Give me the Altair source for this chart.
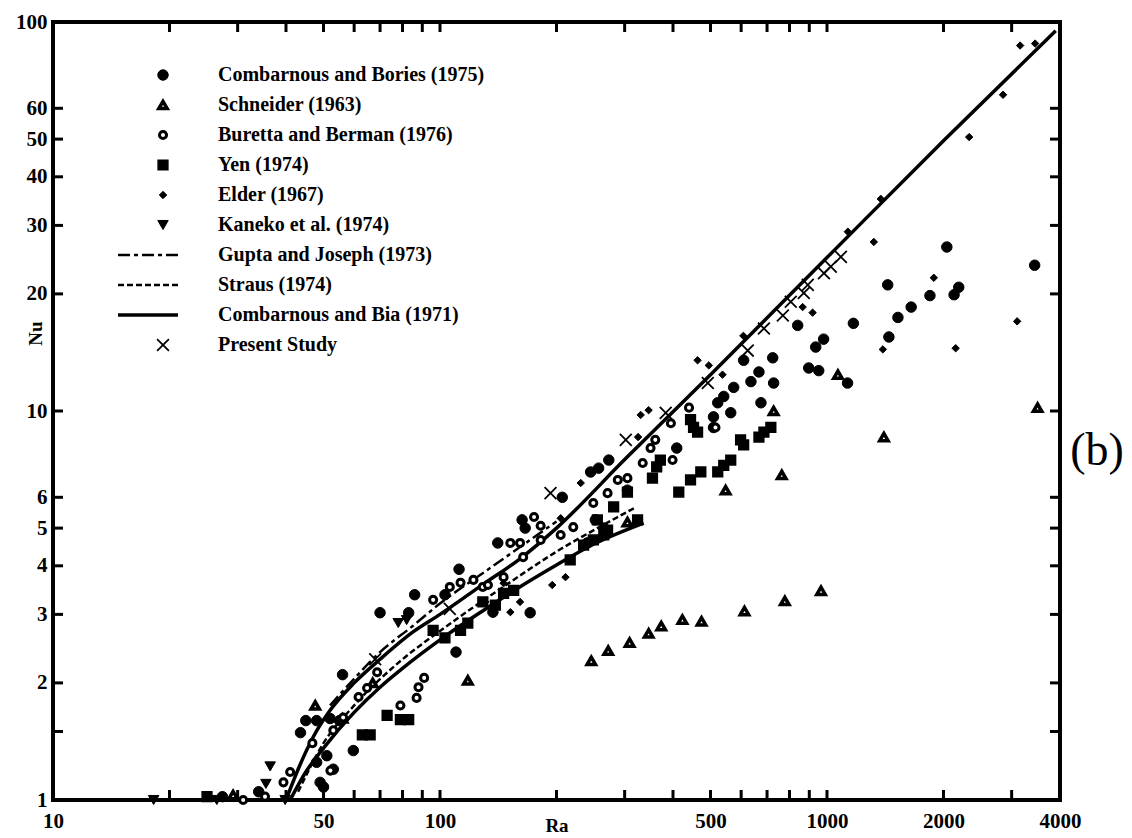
import altair as alt
import pandas as pd

# ---------------- data (Ra, Nu) ----------------
# Combarnous and Bories (1975)
cb_ra = [2040, 3440, 1435, 1845, 2130, 2190, 1650, 1525, 1445, 1170, 980, 935, 897, 952, 1130,
         840, 724, 609, 667, 636, 728, 574, 522, 541, 675, 564, 509, 509, 409, 305, 252, 265,
         240, 245, 257, 273, 163, 166, 141, 112, 103, 83, 171, 137, 70, 86, 110, 56, 43.6, 49,
         59.7, 45, 48, 52, 55, 48, 51, 53, 50, 34, 27.4, 207]
cb_nu = [26.4, 23.7, 21.1, 19.8, 19.9, 20.8, 18.5, 17.4, 15.5, 16.8, 15.3, 14.6, 12.9, 12.7, 11.8,
         16.6, 13.7, 13.5, 12.6, 11.9, 11.8, 11.5, 10.5, 10.9, 10.5, 9.9, 9.66, 9.07, 8.03, 6.26, 5.25, 5.0,
         4.58, 6.97, 7.13, 7.48, 5.25, 5.0, 4.58, 3.92, 3.37, 3.03, 3.03, 3.04, 3.03, 3.37, 2.40, 2.1, 1.49, 1.11,
         1.34, 1.6, 1.6, 1.62, 1.6, 1.25, 1.3, 1.2, 1.08, 1.05, 1.02, 6.0]

# Schneider (1963)
sch_ra = [246, 272, 309, 346, 373, 423, 474, 612, 778, 965,
          728, 764, 547, 1403, 1067, 3500, 118, 47.6, 29.2, 305, 56, 67]
sch_nu = [2.28, 2.42, 2.54, 2.68, 2.80, 2.91, 2.88, 3.06, 3.25, 3.45,
          10.0, 6.85, 6.26, 8.57, 12.4, 10.2, 2.03, 1.75, 1.03, 5.18, 1.62, 2.0]

# Buretta and Berman (1976)
bb_ra = [129, 146, 164, 182, 205, 221, 249, 271, 288, 305, 334, 175, 182, 152, 161, 399,
         96, 106, 113, 122, 133, 61.6, 64.8, 68.8, 53, 56.2, 46.8, 52.1, 79, 88, 91, 87,
         31, 35.3, 39.4, 41, 440, 395, 515, 350, 360]
bb_nu = [3.53, 3.74, 4.21, 4.66, 4.80, 5.03, 5.80, 6.15, 6.65, 6.72, 7.35, 5.34, 5.07, 4.58, 4.58, 7.48,
         3.27, 3.53, 3.62, 3.68, 3.57, 1.84, 1.94, 2.13, 1.51, 1.63, 1.40, 1.19, 1.75, 1.95, 2.06, 1.83,
         1.0, 1.02, 1.11, 1.18, 10.2, 9.3, 9.07, 8.03, 8.43]

# Yen (1974)
yen_ra = [414, 444, 472, 522, 541, 564, 598, 609, 667, 687, 716, 452, 444, 463, 255, 271, 324, 305,
          281, 235, 249, 265, 217, 146, 155, 129, 139, 113, 118, 103, 96, 73, 79, 83, 63, 66, 25,
          371, 363, 354]
yen_nu = [6.19, 6.65, 6.97, 6.97, 7.25, 7.48, 8.43, 8.18, 8.57, 8.83, 9.07, 9.07, 9.5, 8.83, 5.25, 4.94, 5.25, 6.19,
          5.67, 4.52, 4.66, 4.80, 4.14, 3.40, 3.46, 3.23, 3.17, 2.73, 2.85, 2.61, 2.73, 1.65, 1.61, 1.61, 1.47, 1.47, 1.02,
          7.48, 7.18, 6.72]

# Elder (1967)
eld_ra = [3155, 3450, 2850, 2330, 1377, 1132, 1321, 1888, 918, 865, 1394, 537, 463, 346, 330, 325,
          231, 205, 211, 195, 161, 152, 131, 146, 3100, 2150, 495, 608]
eld_nu = [87, 88, 65, 50.6, 35.1, 28.9, 27.2, 22.0, 17.9, 18.5, 14.4, 12.4, 13.5, 10.05, 9.77, 8.57,
          6.53, 5.3, 3.74, 3.57, 3.23, 3.04, 3.23, 3.61, 17.0, 14.5, 13.1, 15.6]

# Kaneko et al. (1974)
kan_ra = [18.2, 26.5, 39.8, 36.4, 35.5, 78, 82]
kan_nu = [1.0, 1.0, 1.0, 1.22, 1.1, 2.85, 2.9]

# Present Study
ps_ra = [68, 106, 193, 302, 383, 492, 624, 687, 769, 806, 871, 892, 982, 1023, 1086]
ps_nu = [2.3, 3.1, 6.15, 8.43, 9.89, 11.8, 14.3, 16.3, 17.6, 19.1, 20.1, 21.1, 22.6, 23.5, 24.9]

# Gupta and Joseph (1973)
gj_ra = [52, 60, 70, 85, 100, 130, 160, 200]
gj_nu = [1.75, 2.05, 2.4, 2.8, 3.2, 3.85, 4.45, 5.2]

# Straus (1974)
st_ra = [43, 50, 60, 80, 100, 150, 200, 260, 320]
st_nu = [1.05, 1.4, 1.75, 2.3, 2.72, 3.6, 4.35, 5.05, 5.65]

# Combarnous and Bia (1971), upper and lower branches
cbia_ra = [40, 43, 47, 52, 60, 70, 85, 100, 130, 160, 200, 300, 500, 1000, 2000, 3900]
cbia_nu = [1.0, 1.2, 1.45, 1.7, 2.0, 2.3, 2.7, 3.0, 3.6, 4.15, 5.0, 7.5, 12.4, 24.8, 49.5, 95]
cbia2_ra = [41, 45, 50, 60, 70, 80, 100, 130, 160, 200, 250, 336]
cbia2_nu = [1.0, 1.18, 1.36, 1.68, 1.95, 2.18, 2.58, 3.08, 3.52, 4.02, 4.55, 5.15]

# axis labels and tick positions
x_labels = [10, 50, 100, 500, 1000, 2000, 4000]
y_labels = [1, 2, 3, 4, 5, 6, 10, 20, 30, 40, 50, 60, 100]
x_ticks = [20, 30, 40, 50, 60, 70, 80, 90, 100, 200, 300, 400, 500, 600, 700, 800, 900, 1000, 2000, 3000]
y_ticks = [1.5, 2, 3, 4, 5, 6, 10, 20, 30, 40, 50, 60]

legend_labels = [
    "Combarnous and Bories (1975)",
    "Schneider (1963)",
    "Buretta and Berman (1976)",
    "Yen (1974)",
    "Elder (1967)",
    "Kaneko et al. (1974)",
    "Gupta and Joseph (1973)",
    "Straus (1974)",
    "Combarnous and Bia (1971)",
    "Present Study",
]

# ---------------- chart ----------------
W, H = 1007, 778
SERIF = "Liberation Serif"

xs = alt.Scale(type="log", domain=[10, 4000], nice=False)
ys = alt.Scale(type="log", domain=[1, 100], nice=False)

xaxis = alt.Axis(values=x_labels, ticks=False, domain=False, grid=False, labelFlush=False,
                 labelOverlap=False, format="d", labelFont=SERIF, labelFontSize=21,
                 labelFontWeight="bold", labelColor="black", labelPadding=10,
                 titleFont=SERIF, titleFontSize=19, titleFontWeight="bold", titleColor="black",
                 titleY=25, titleBaseline="middle")
yaxis = alt.Axis(values=y_labels, ticks=False, domain=False, grid=False, labelFlush=False,
                 labelOverlap=False, format="d", labelFont=SERIF, labelFontSize=21,
                 labelFontWeight="bold", labelColor="black", labelPadding=6,
                 titleFont=SERIF, titleFontSize=19, titleFontWeight="bold", titleColor="black",
                 titleX=-18, titleY=311, titleAngle=-90, titleAlign="center", titleBaseline="middle")

X = alt.X("Ra:Q", scale=xs, axis=xaxis, title="Ra")
Y = alt.Y("Nu:Q", scale=ys, axis=yaxis, title="Nu")

CROSS = "M -1 -1 L 1 1 M -1 1 L 1 -1"

styles = {
    "cb": dict(shape="circle", filled=True, fill="black", stroke="black", strokeWidth=1, size=110, opacity=1),
    "sch": dict(shape="triangle-up", filled=True, fill="white", stroke="black", strokeWidth=3.5, size=70, opacity=1),
    "bb": dict(shape="circle", filled=True, fill="white", stroke="black", strokeWidth=3, size=50, opacity=1),
    "yen": dict(shape="square", filled=True, fill="black", stroke="black", strokeWidth=1.5, size=95, opacity=1),
    "eld": dict(shape="diamond", filled=True, fill="black", stroke="black", strokeWidth=1, size=55, opacity=1),
    "kan": dict(shape="triangle-down", filled=True, fill="black", stroke="black", strokeWidth=1, size=110, opacity=1),
    "ps": dict(shape=CROSS, filled=False, stroke="black", strokeWidth=1.8, size=140, opacity=1),
}


def points(ra, nu, key):
    df = pd.DataFrame({"Ra": ra, "Nu": nu})
    return alt.Chart(df).mark_point(**styles[key]).encode(x=X, y=Y)


def curve(ra, nu, **kw):
    df = pd.DataFrame({"Ra": ra, "Nu": nu})
    return alt.Chart(df).mark_line(color="black", interpolate="monotone", **kw).encode(x=X, y=Y)


line_styles = {
    "gj": dict(strokeWidth=2.5, strokeDash=[12, 4, 4, 4]),
    "st": dict(strokeWidth=2.5, strokeDash=[6, 3]),
    "cbia": dict(strokeWidth=3.5),
}

layers = [
    curve(cbia_ra, cbia_nu, **line_styles["cbia"]),
    curve(cbia2_ra, cbia2_nu, **line_styles["cbia"]),
    curve(st_ra, st_nu, **line_styles["st"]),
    curve(gj_ra, gj_nu, **line_styles["gj"]),
    points(cb_ra, cb_nu, "cb"),
    points(yen_ra, yen_nu, "yen"),
    points(sch_ra, sch_nu, "sch"),
    points(bb_ra, bb_nu, "bb"),
    points(eld_ra, eld_nu, "eld"),
    points(kan_ra, kan_nu, "kan"),
    points(ps_ra, ps_nu, "ps"),
]

# inward tick marks on all four sides
xt = pd.DataFrame({"Ra": x_ticks})
yt = pd.DataFrame({"Nu": y_ticks})
tick = dict(color="black", strokeWidth=3)
layers += [
    alt.Chart(xt).mark_rule(**tick).encode(x=X, y=alt.value(H), y2=alt.value(H - 10)),
    alt.Chart(xt).mark_rule(**tick).encode(x=X, y=alt.value(0), y2=alt.value(10)),
    alt.Chart(yt).mark_rule(**tick).encode(y=Y, x=alt.value(0), x2=alt.value(10)),
    alt.Chart(yt).mark_rule(**tick).encode(y=Y, x=alt.value(W), x2=alt.value(W - 10)),
]

# legend block
row0, dy = 53, 30
sym_x, line_x0, line_x1, text_x = 110, 65, 125, 165
one = pd.DataFrame({"k": [0]})
legend_keys = ["cb", "sch", "bb", "yen", "eld", "kan", "gj", "st", "cbia", "ps"]
for i, (key, label) in enumerate(zip(legend_keys, legend_labels)):
    ry = row0 + dy * i
    if key in styles:
        layers.append(alt.Chart(one).mark_point(**styles[key]).encode(x=alt.value(sym_x), y=alt.value(ry)))
    else:
        layers.append(alt.Chart(one).mark_rule(color="black", **line_styles[key]).encode(
            x=alt.value(line_x0), x2=alt.value(line_x1), y=alt.value(ry)))
    layers.append(alt.Chart(pd.DataFrame({"t": [label]})).mark_text(
        align="left", baseline="middle", font=SERIF, fontSize=20, fontWeight="bold", color="black").encode(
        text="t:N", x=alt.value(text_x), y=alt.value(ry)))

# panel tag
layers.append(alt.Chart(pd.DataFrame({"t": ["(b)"]})).mark_text(
    align="center", baseline="middle", font=SERIF, fontSize=46, color="black").encode(
    text="t:N", x=alt.value(W + 37), y=alt.value(429)))

chart = alt.layer(*layers).properties(
    width=W, height=H,
    autosize=alt.AutoSizeParams(type="none"),
    padding={"left": 53, "top": 22, "right": 72, "bottom": 38},
    background="white",
).configure_view(stroke="black", strokeWidth=4)

chart.save("out.html", embed_options={"renderer": "svg", "actions": False})
